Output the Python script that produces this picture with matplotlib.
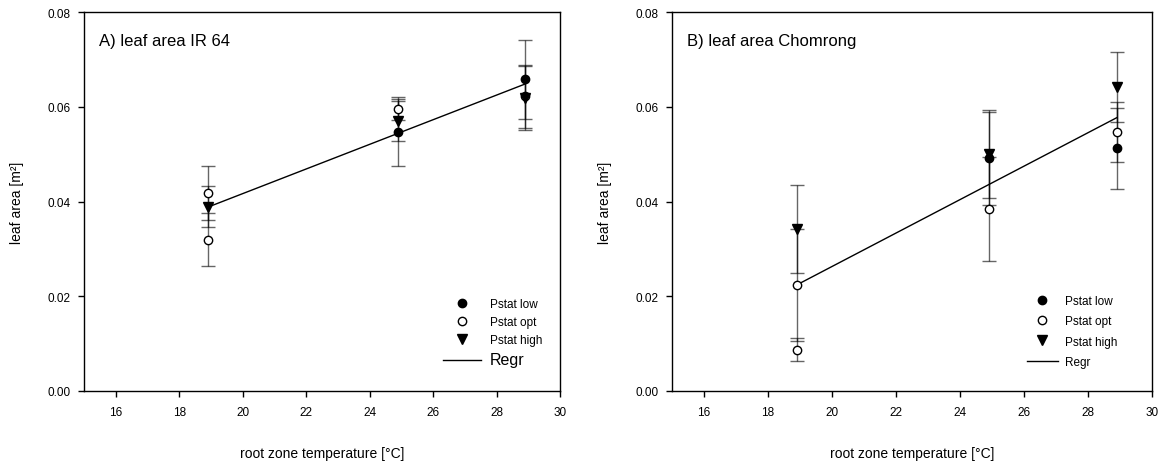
import matplotlib
matplotlib.use("Agg")
import matplotlib.pyplot as plt
from matplotlib.lines import Line2D
import numpy as np

plt.rcParams['font.family'] = ['Liberation Sans', 'DejaVu Sans']

temps = [18.9, 24.9, 28.9]

# Panel A: IR 64
a_low = [0.0319, 0.0546, 0.0658]
a_low_err = [0.0056, 0.0071, 0.0083]
a_opt = [0.0418, 0.0596, 0.0622]
a_opt_err = [0.0057, 0.0025, 0.0066]
a_high = [0.0389, 0.0570, 0.0618]
a_high_err = [0.0043, 0.0042, 0.0068]
a_regr = (-0.01034, 0.0026)   # intercept, slope

# Panel B: Chomrong
b_low = [0.0087, 0.0491, 0.0512]
b_low_err = [0.0024, 0.0098, 0.0086]
b_opt = [0.0224, 0.0384, 0.0547]
b_opt_err = [0.0119, 0.0110, 0.0063]
b_high = [0.0342, 0.0500, 0.0641]
b_high_err = [0.0093, 0.0093, 0.0074]
b_regr = (-0.04432, 0.00353)

low_filled = [False, True, True]  # first low point is drawn hollow in the original

titles = ["A) leaf area IR 64", "B) leaf area Chomrong"]
xlabel = "root zone temperature [°C]"
ylabel = "leaf area [m²]"
xticks = [16, 18, 20, 22, 24, 26, 28, 30]
yticks = [0.00, 0.02, 0.04, 0.06, 0.08]
legend_labels = ["Pstat low", "Pstat opt", "Pstat high", "Regr"]

W, H = 1166, 464
fig = plt.figure(figsize=(W / 100, H / 100), dpi=100)

def px_axes(l, r, t, b):
    return fig.add_axes([l / W, 1 - b / H, (r - l) / W, (b - t) / H])

axA = px_axes(84, 560, 13, 392)
axB = px_axes(672, 1152, 13, 392)

def draw(ax, low, low_err, opt, opt_err, high, high_err, regr, title,
         regr_fs, leg_xy, hl, htp, lsp):
    for vals, errs in [(low, low_err), (opt, opt_err), (high, high_err)]:
        eb = ax.errorbar(temps, vals, yerr=errs, fmt='none', ecolor='black',
                         elinewidth=1.0, capsize=5, capthick=1.0, zorder=2,
                         alpha=0.6)
    x = np.array([temps[0], temps[-1]])
    ax.plot(x, regr[0] + regr[1] * x, color='black', lw=1.0, zorder=3)
    for t, v, f in zip(temps, low, low_filled):
        ax.plot(t, v, 'o', ms=6, mec='black', mew=1.0,
                mfc='black' if f else 'white', zorder=4)
    ax.plot(temps, opt, 'o', ms=6, mec='black', mew=1.0, mfc='white',
            ls='none', zorder=5)
    ax.plot(temps, high, 'v', ms=6.5, mec='black', mew=1.0, mfc='black',
            ls='none', zorder=6)
    ax.set_xlim(15, 30)
    ax.set_ylim(0, 0.08)
    ax.set_xticks(xticks)
    ax.set_yticks(yticks)
    ax.set_yticklabels([f"{v:.2f}" for v in yticks])
    ax.tick_params(direction='out', length=4.5, width=1, labelsize=8.5)
    ax.tick_params(axis='x', pad=6.5)
    ax.tick_params(axis='y', pad=5)
    for s in ax.spines.values():
        s.set_linewidth(1.0)
    ax.set_xlabel(xlabel, fontsize=10, labelpad=20)
    ax.set_ylabel(ylabel, fontsize=10, labelpad=17)
    ax.text(0.031, 0.925, title, transform=ax.transAxes, fontsize=12,
            va='center', ha='left')
    handles = [
        Line2D([], [], marker='o', ls='none', ms=6, mfc='black', mec='black'),
        Line2D([], [], marker='o', ls='none', ms=6, mfc='white', mec='black'),
        Line2D([], [], marker='v', ls='none', ms=6.5, mfc='black', mec='black'),
        Line2D([], [], color='black', lw=1.0),
    ]
    bx, by = leg_xy
    leg = ax.legend(handles, legend_labels, loc='upper left',
                    bbox_to_anchor=(bx / W, 1 - by / H),
                    bbox_transform=fig.transFigure, frameon=False,
                    fontsize=8.5, handlelength=hl, labelspacing=lsp,
                    handletextpad=htp, borderpad=0, borderaxespad=0)
    leg.get_texts()[3].set_fontsize(regr_fs)

draw(axA, a_low, a_low_err, a_opt, a_opt_err, a_high, a_high_err, a_regr,
     titles[0], 11.5, (443, 299), 3.2, 0.76, 0.5)
draw(axB, b_low, b_low_err, b_opt, b_opt_err, b_high, b_high_err, b_regr,
     titles[1], 8.5, (1027, 296), 2.6, 0.6, 0.7)

fig.savefig("out.png", dpi=100)
